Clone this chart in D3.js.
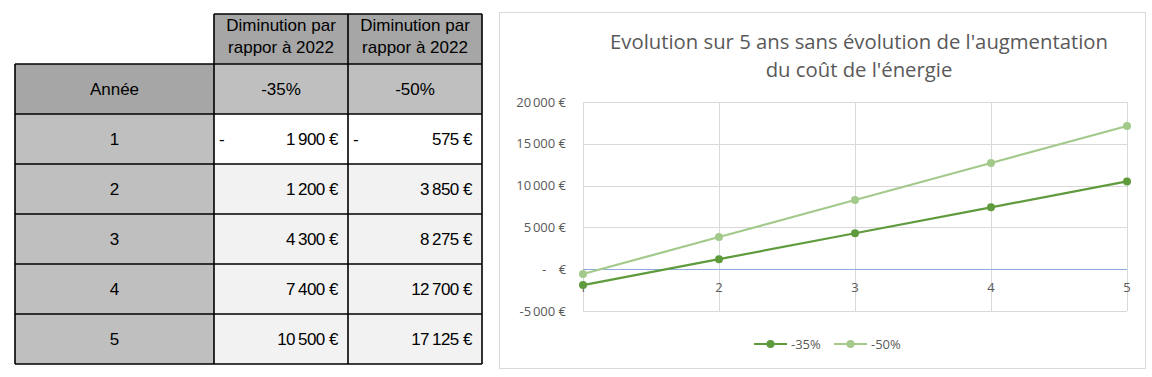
<!DOCTYPE html>
<html>
<head>
<meta charset="utf-8">
<script src="https://cdn.jsdelivr.net/npm/d3@7"></script>
<style>
  body { margin: 0; background: #fff; }
  svg { display: block; }
</style>
</head>
<body>
<div id="chart"></div>
<script>
// Data
const years = [1, 2, 3, 4, 5];
const seriesNames = ["-35%", "-50%"];
const values35 = [-1900, 1200, 4300, 7400, 10500];
const values50 = [-575, 3850, 8275, 12700, 17125];
const yTicks = [-5000, 0, 5000, 10000, 15000, 20000];
const headerText = ["Diminution par", "rappor à 2022"];
const chartTitle = ["Evolution sur 5 ans sans évolution de l'augmentation", "du coût de l'énergie"];

const colors = ["#5f9b3d", "#a3c98b"];

// Formatters
const groupFmt = (v, sep) => {
  const s = d3.format(",")(Math.abs(v)).replace(/,/g, sep);
  return s + " €";
};
const axisFmt = (v) => (v === 0 ? "-    €" : (v < 0 ? "-" : "") + groupFmt(v, "\u202f"));

const svg = d3
  .select("#chart")
  .append("svg")
  .attr("width", 1152)
  .attr("height", 377);

// ---------- Table ----------
const tbl = svg.append("g").style("font-family", "'Liberation Sans', Arial, sans-serif");
const colX = [15, 214, 348, 482];
const rowTop = 64;
const rowH = 50;
const fs = 17;

// header cells
[0, 1].forEach((i) => {
  tbl.append("rect")
    .attr("x", colX[i + 1]).attr("y", 14)
    .attr("width", colX[i + 2] - colX[i + 1]).attr("height", 50)
    .attr("fill", "#a6a6a6");
  headerText.forEach((t, j) => {
    tbl.append("text")
      .attr("x", (colX[i + 1] + colX[i + 2]) / 2)
      .attr("y", 31 + j * 22)
      .attr("text-anchor", "middle")
      .attr("font-size", fs)
      .attr("fill", "#000")
      .text(t);
  });
});

// "Année" row
tbl.append("rect").attr("x", colX[0]).attr("y", rowTop)
  .attr("width", colX[1] - colX[0]).attr("height", rowH).attr("fill", "#a6a6a6");
tbl.append("text").attr("x", (colX[0] + colX[1]) / 2).attr("y", rowTop + 31)
  .attr("text-anchor", "middle").attr("font-size", fs).text("Année");
seriesNames.forEach((n, i) => {
  tbl.append("rect").attr("x", colX[i + 1]).attr("y", rowTop)
    .attr("width", colX[i + 2] - colX[i + 1]).attr("height", rowH).attr("fill", "#bfbfbf");
  tbl.append("text").attr("x", (colX[i + 1] + colX[i + 2]) / 2).attr("y", rowTop + 31)
    .attr("text-anchor", "middle").attr("font-size", fs).text(n);
});

// data rows
years.forEach((yr, r) => {
  const y0 = rowTop + rowH * (r + 1);
  tbl.append("rect").attr("x", colX[0]).attr("y", y0)
    .attr("width", colX[1] - colX[0]).attr("height", rowH).attr("fill", "#bfbfbf");
  tbl.append("text").attr("x", (colX[0] + colX[1]) / 2).attr("y", y0 + 31)
    .attr("text-anchor", "middle").attr("font-size", fs).text(yr);
  [values35[r], values50[r]].forEach((v, i) => {
    tbl.append("rect").attr("x", colX[i + 1]).attr("y", y0)
      .attr("width", colX[i + 2] - colX[i + 1]).attr("height", rowH)
      .attr("fill", r === 0 ? "#ffffff" : "#f2f2f2");
    if (v < 0) {
      tbl.append("text").attr("x", colX[i + 1] + 5).attr("y", y0 + 31)
        .attr("font-size", fs).text("-");
    }
    tbl.append("text").attr("x", colX[i + 2] - 10).attr("y", y0 + 31)
      .attr("text-anchor", "end").attr("font-size", fs).attr("letter-spacing", -0.5)
      .text(groupFmt(v, "\u2009"));
  });
});

// borders
const tableBottom = rowTop + rowH * 6;
const lines = [];
lines.push([colX[1], 14, colX[3], 14]);
for (let k = 0; k <= 6; k++) lines.push([colX[0], rowTop + k * rowH, colX[3], rowTop + k * rowH]);
lines.push([colX[0], rowTop, colX[0], tableBottom]);
lines.push([colX[1], 14, colX[1], tableBottom]);
lines.push([colX[2], 14, colX[2], tableBottom]);
lines.push([colX[3], 14, colX[3], tableBottom]);
tbl.selectAll("line.b").data(lines).join("line")
  .attr("x1", (d) => d[0]).attr("y1", (d) => d[1])
  .attr("x2", (d) => d[2]).attr("y2", (d) => d[3])
  .attr("stroke", "#000").attr("stroke-width", 1.6);

// ---------- Chart ----------
const ch = svg.append("g").style("font-family", "'Open Sans', 'Noto Sans', sans-serif");
ch.append("rect").attr("x", 499.5).attr("y", 12.5).attr("width", 646).attr("height", 356)
  .attr("fill", "#fff").attr("stroke", "#d9d9d9");

chartTitle.forEach((t, i) => {
  ch.append("text").attr("x", 859).attr("y", 49 + i * 28)
    .attr("text-anchor", "middle").attr("font-size", 20.3).attr("fill", "#595959")
    .text(t);
});

const xScale = d3.scalePoint().domain(years).range([583, 1127]);
const yScale = d3.scaleLinear().domain([-5000, 20000]).range([311, 102]);

// horizontal gridlines
ch.selectAll("line.hg").data(yTicks).join("line")
  .attr("x1", 583).attr("x2", 1127)
  .attr("y1", (d) => Math.round(yScale(d)) + 0.5).attr("y2", (d) => Math.round(yScale(d)) + 0.5)
  .attr("stroke", "#d9d9d9");
// vertical gridlines
ch.selectAll("line.vg").data(years).join("line")
  .attr("x1", (d) => Math.round(xScale(d)) + 0.5).attr("x2", (d) => Math.round(xScale(d)) + 0.5)
  .attr("y1", 102).attr("y2", 311)
  .attr("stroke", "#d9d9d9");
// zero axis
ch.append("line").attr("x1", 583).attr("x2", 1127)
  .attr("y1", Math.round(yScale(0)) + 0.5).attr("y2", Math.round(yScale(0)) + 0.5)
  .attr("stroke", "#8faadc");

// y labels
ch.selectAll("text.yl").data(yTicks).join("text")
  .attr("x", 566).attr("y", (d) => yScale(d) + 4.5)
  .attr("text-anchor", "end").attr("font-size", 13).attr("fill", "#595959")
  .attr("letter-spacing", -0.2)
  .style("white-space", "pre")
  .text(axisFmt);

// x labels
ch.selectAll("text.xl").data(years).join("text")
  .attr("x", (d) => xScale(d)).attr("y", yScale(0) + 23)
  .attr("text-anchor", "middle").attr("font-size", 13).attr("fill", "#595959")
  .text((d) => d);

// series
const series = [values35, values50];
const line = d3.line().x((d, i) => xScale(years[i])).y((d) => yScale(d));
series.slice().reverse().forEach((vals, ri) => {
  const i = series.length - 1 - ri;
  ch.append("path").datum(vals).attr("d", line)
    .attr("fill", "none").attr("stroke", colors[i]).attr("stroke-width", 2.2);
  ch.selectAll(null).data(vals).join("circle")
    .attr("cx", (d, k) => xScale(years[k])).attr("cy", (d) => yScale(d))
    .attr("r", 4).attr("fill", colors[i]);
});

// legend
seriesNames.forEach((n, i) => {
  const lx = 754 + i * 80;
  const ly = 344;
  ch.append("line").attr("x1", lx).attr("x2", lx + 33).attr("y1", ly).attr("y2", ly)
    .attr("stroke", colors[i]).attr("stroke-width", 2.2);
  ch.append("circle").attr("cx", lx + 16.5).attr("cy", ly).attr("r", 4).attr("fill", colors[i]);
  ch.append("text").attr("x", lx + 37).attr("y", ly + 4.5)
    .attr("font-size", 13).attr("fill", "#595959").text(n);
});
</script>
</body>
</html>
